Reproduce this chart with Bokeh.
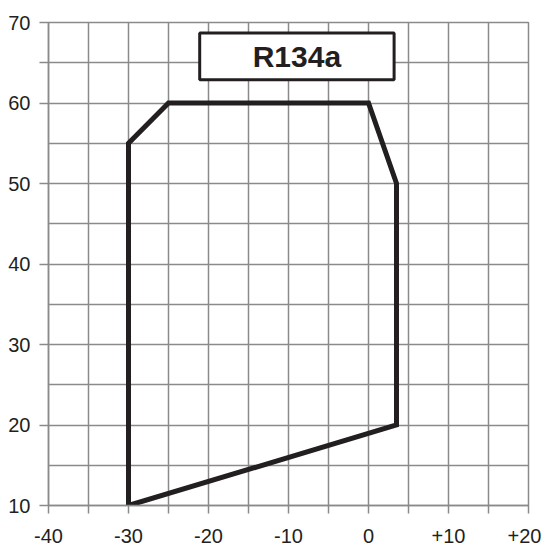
from bokeh.plotting import figure
from bokeh.embed import file_html
from bokeh.resources import INLINE
from bokeh.models import FixedTicker, BoxAnnotation, Label, Range1d

# Operating envelope R134a (evaporating temp x, condensing temp y)
env_x = [-30, -30, -25, 0, 3.5, 3.5, -30]
env_y = [10, 55, 60, 60, 50, 20, 10]

x_ticks = [-40, -35, -30, -25, -20, -15, -10, -5, 0, 5, 10, 15, 20]
x_labels = ["-40", "", "-30", "", "-20", "", "-10", "", "0", "", "+10", "", "+20"]
y_ticks = [10, 20, 30, 40, 50, 60, 65, 70]
y_labels = ["10", "20", "30", "40", "50", "60", "", "70"]
y_grid = [10, 15, 20, 25, 30, 35, 40, 45, 50, 55, 60, 65, 70]

title_text = "R134a"

GRID = "#8a8a8a"
INK = "#231f20"

p = figure(
    output_backend="svg", toolbar_location=None,
    frame_width=480, frame_height=483,
    min_border_left=48, min_border_right=13, min_border_top=22, min_border_bottom=38,
    x_range=Range1d(-40, 20), y_range=Range1d(10, 70),
)
p.background_fill_color = "white"
p.border_fill_color = "white"
p.outline_line_color = GRID
p.outline_line_width = 1.5

p.xaxis.ticker = FixedTicker(ticks=x_ticks)
p.yaxis.ticker = FixedTicker(ticks=y_ticks)
p.xaxis.major_label_overrides = {t: l for t, l in zip(x_ticks, x_labels)}
p.yaxis.major_label_overrides = {t: l for t, l in zip(y_ticks, y_labels)}

p.xgrid.ticker = FixedTicker(ticks=x_ticks)
p.ygrid.ticker = FixedTicker(ticks=y_grid)
for g in (p.xgrid, p.ygrid):
    g.grid_line_color = GRID
    g.grid_line_width = 1.5

for ax in (p.xaxis, p.yaxis):
    ax.axis_line_color = GRID
    ax.axis_line_width = 1.5
    ax.major_tick_line_color = GRID
    ax.major_tick_line_width = 1.5
    ax.minor_tick_line_color = None
    ax.major_tick_in = 0
    ax.major_label_text_font = "Liberation Sans"
    ax.major_label_text_font_size = "20px"
    ax.major_label_text_color = INK
p.xaxis.major_tick_out = 8
p.yaxis.major_tick_out = 9
p.xaxis.major_label_standoff = 15
p.xaxis.major_label_text_line_height = 0.8
p.yaxis.major_label_standoff = 9

p.line(env_x, env_y, line_color=INK, line_width=5, line_join="miter")

box = BoxAnnotation(left=-21.1, right=3.2, bottom=62.9, top=68.7,
                    fill_color="white", fill_alpha=1.0,
                    line_color=INK, line_alpha=1.0, line_width=3)
p.add_layout(box)
lbl = Label(x=-8.95, y=65.8, text=title_text, text_align="center",
            text_baseline="middle", text_font="Liberation Sans",
            text_font_style="bold", text_font_size="30px", text_color=INK)
p.add_layout(lbl)

open("out.html", "w").write(file_html(p, INLINE))
